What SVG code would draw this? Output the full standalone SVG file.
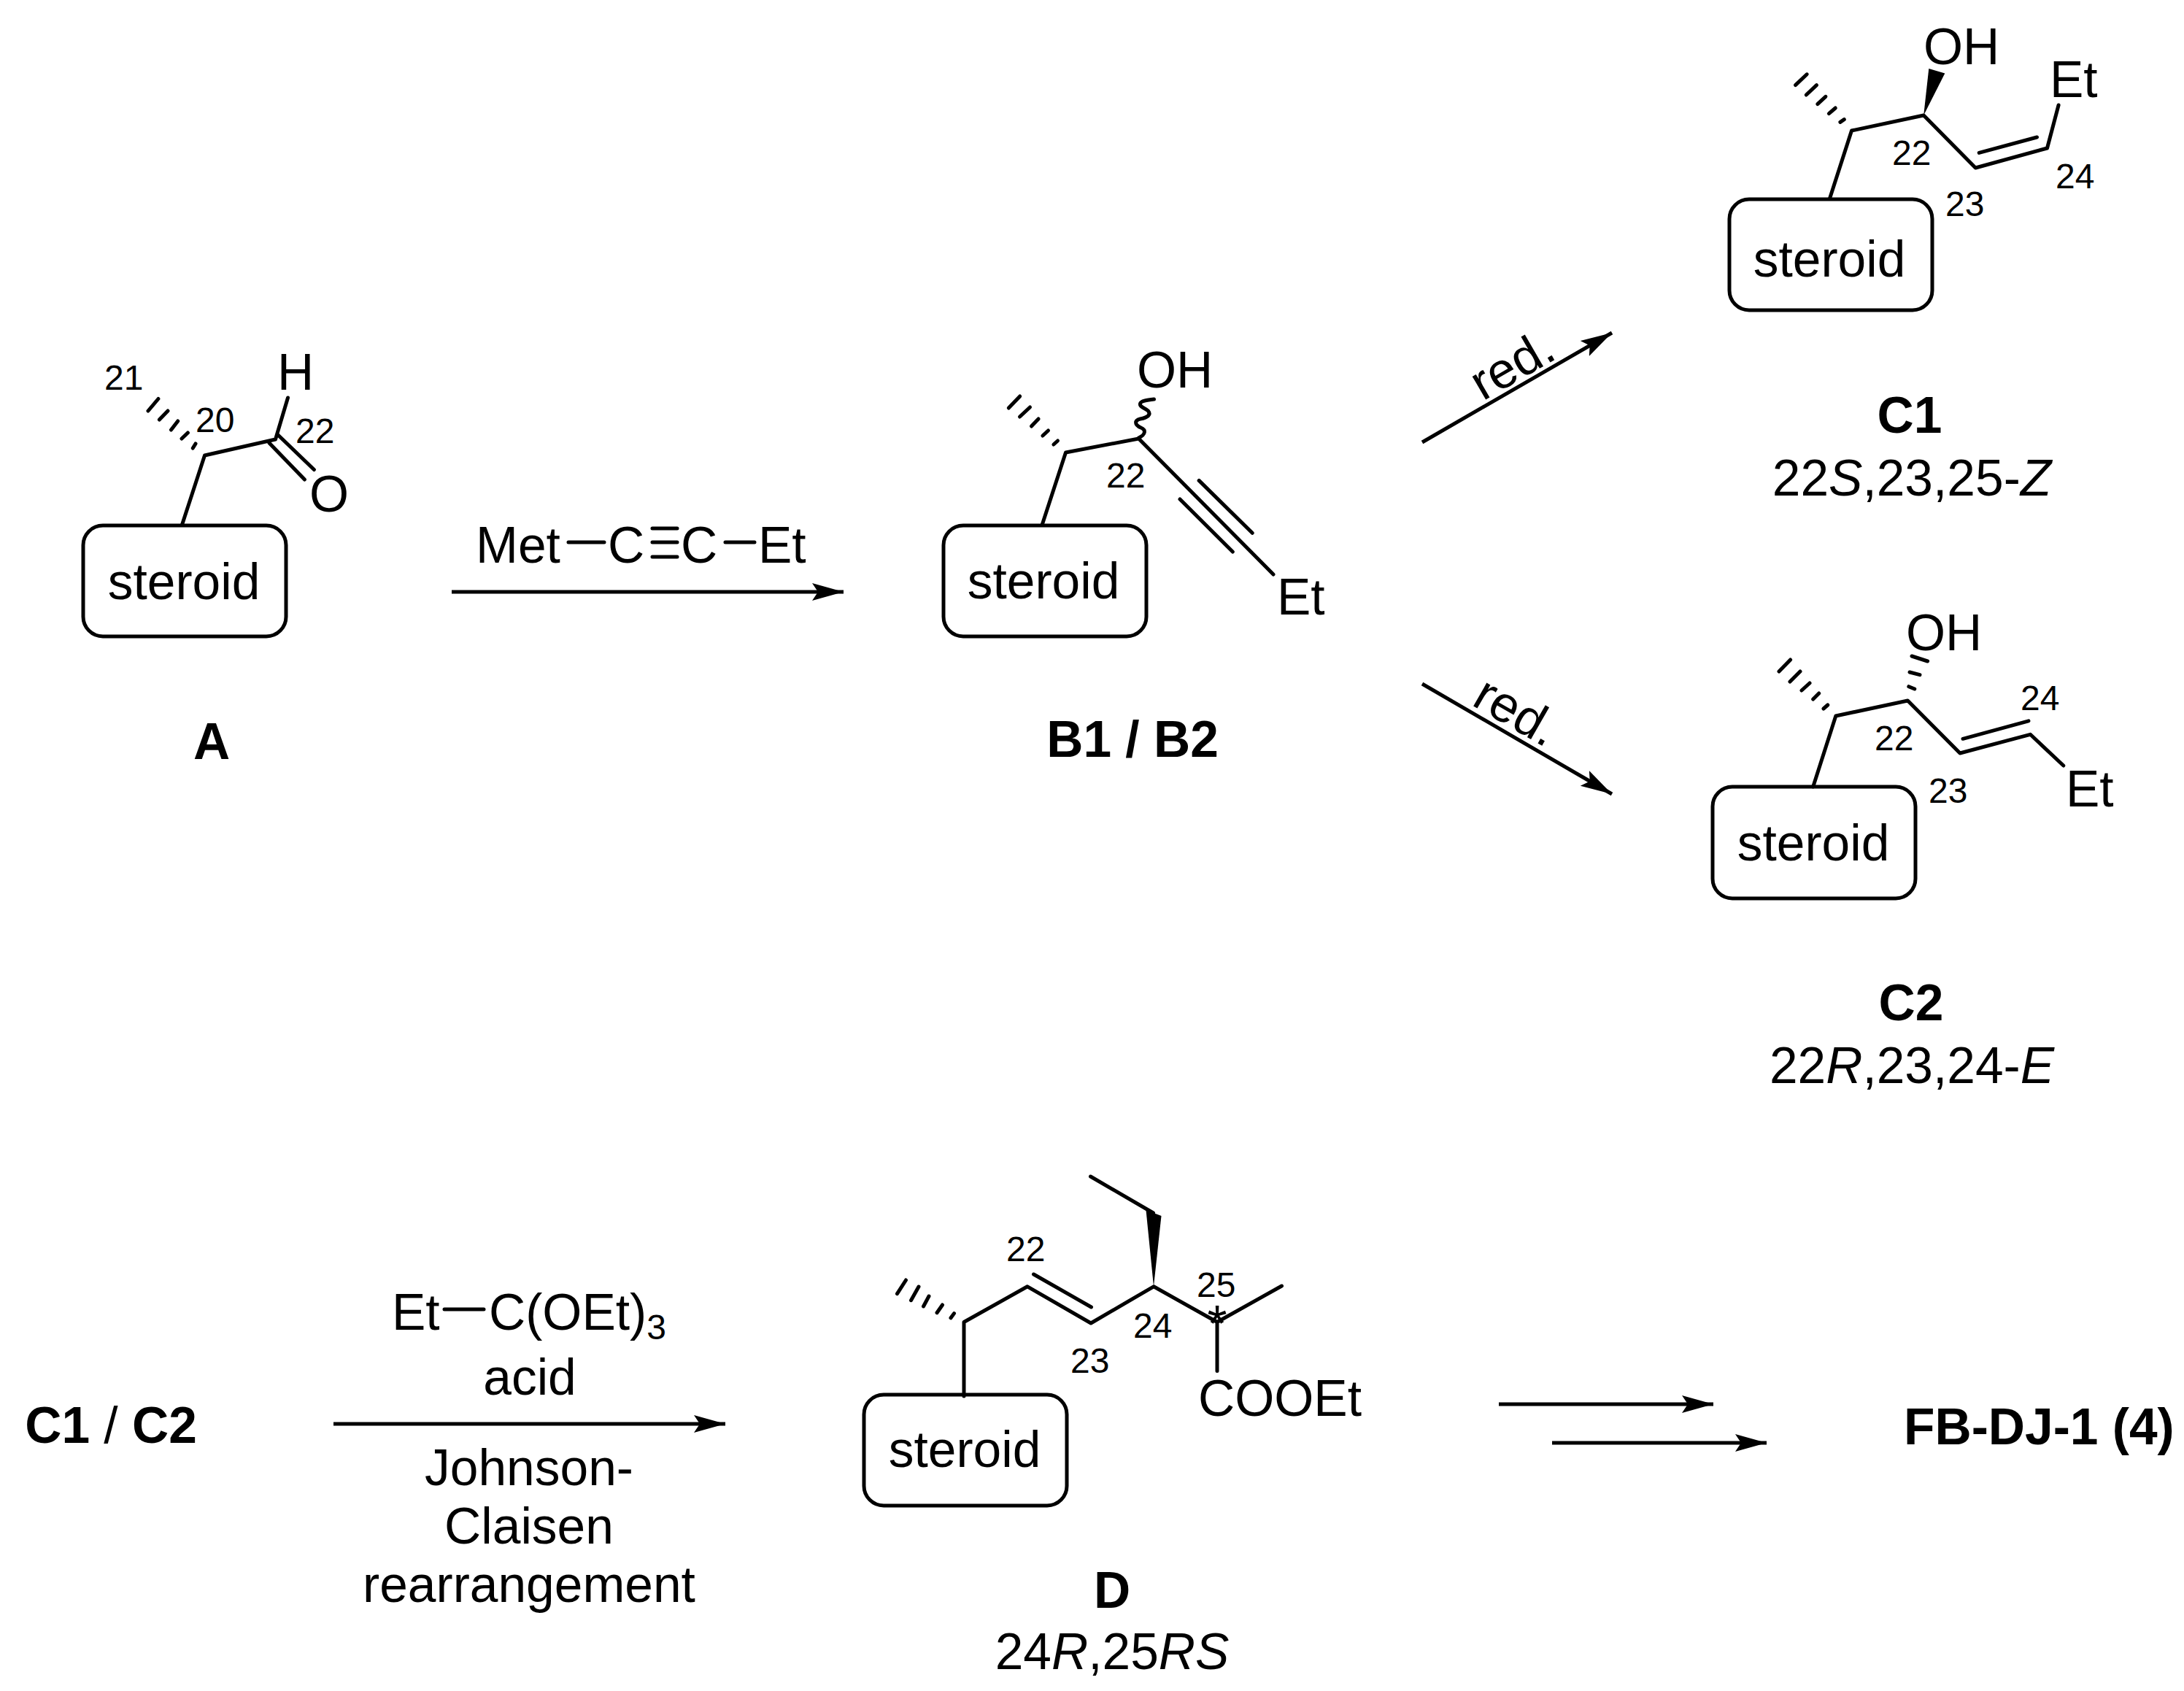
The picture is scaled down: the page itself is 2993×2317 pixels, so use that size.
<svg xmlns="http://www.w3.org/2000/svg" width="2993" height="2317" viewBox="0 0 2993 2317">
<style>
text{font-family:"Liberation Sans",Arial,sans-serif;font-size:69.500px;fill:#000}
.n{font-size:48px}
.b{font-weight:bold}
.m{text-anchor:middle}
.i{font-style:italic}
.r{font-weight:normal}
.bond{fill:none;stroke:#000;stroke-width:5;stroke-linecap:round;stroke-linejoin:round}
.hash{fill:none;stroke:#000;stroke-width:5;stroke-linecap:round}
.box{fill:none;stroke:#000;stroke-width:5}
.arrow{fill:none;stroke:#000;stroke-width:5;marker-end:url(#ah)}
</style>
<defs>
<marker id="ah" markerUnits="userSpaceOnUse" markerWidth="44" markerHeight="26" refX="43" refY="13" orient="auto"><path d="M43 13L0 1 8 13 0 25Z" fill="#000"/></marker>
</defs>
<rect width="2993" height="2317" fill="#fff"/>
<g id="connectors">
<path class="arrow" d="M619 811H1156"/>
<path class="arrow" d="M1949 606L2209 456"/>
<path class="arrow" d="M1949 937L2209 1088"/>
<path class="arrow" d="M457 1951H994"/>
<path class="arrow" d="M2054 1924H2348"/>
<path class="arrow" d="M2127 1977H2421"/>
</g>
<g id="node-A">
<rect class="box" x="114" y="720" width="278" height="152" rx="27"/>
<text class="m" x="252" y="821">steroid</text>
<path class="bond" d="M249.500 719L280.500 624 377.500 602 394.500 545M380 595L430.400 643.500M369 607L417.400 657"/>
<path class="hash" d="M216.900 546.500L203 563M230 563L218.400 575M243.700 577L234.500 589M257.400 593L249 601M268 608L264.300 614"/>
<text class="n" x="143" y="534">21</text>
<text class="n" x="268" y="592">20</text>
<text class="n" x="405" y="607">22</text>
<text x="380" y="534">H</text>
<text x="424" y="701">O</text>
<text class="b m" x="290" y="1040">A</text>
</g>
<g id="reagent-1" transform="translate(-3 -1)">
<text x="655" y="772">Met</text>
<text x="836" y="772">C</text>
<text x="936" y="772">C</text>
<text x="1042" y="772">Et</text>
<path class="bond" d="M782 744H831M897 725H931M897 744H931M897 764H931M997 744H1037"/>
</g>
<g id="node-B">
<rect class="box" x="1293" y="720" width="278" height="152" rx="27"/>
<text class="m" x="1430" y="820">steroid</text>
<g transform="translate(-1.500 -1)">
<path class="bond" d="M1430 719L1462 621 1562 602 1746.500 788M1644.600 659.400L1717.700 731.300M1618.500 685L1690.800 757"/>
<path class="bond" d="M1562 601C1572 596 1572 590 1565 587C1556 583 1556 577 1564 575C1575 573 1579 569 1575 564C1571 560 1563 559 1564 554C1565 550 1574 549 1583 548"/>
<path class="hash" d="M1399.200 544L1383.800 560M1413 559L1399 572M1424.600 575L1415 585M1438 591L1430.400 598M1451 605L1445.400 610"/>
</g>
<text x="1558" y="531">OH</text>
<text class="n" x="1516" y="668">22</text>
<text x="1750" y="842">Et</text>
<text class="b m" x="1552" y="1037">B1 / B2</text>
</g>
<g id="node-C1">
<rect class="box" x="2370" y="273" width="278" height="152" rx="27"/>
<text class="m" x="2507" y="379">steroid</text>
<g transform="translate(-2.500 0)">
<path class="bond" d="M2510 272L2540 179 2638.700 158 2709.800 230 2808 203 2823.600 144M2714.700 209.400L2794 188"/>
<path d="M2638.700 158L2645.800 94 2667.800 100.500Z"/>
<path class="hash" d="M2478.700 101.800L2463 116.600M2492 116.600L2477.800 130M2504.400 132.300L2493.300 142.600M2517.800 148L2508.900 155.600M2529.800 163.700L2524.400 167.300"/>
</g>
<text x="2636" y="88">OH</text>
<text x="2809" y="133">Et</text>
<text class="n" x="2593" y="226">22</text>
<text class="n" x="2666" y="296">23</text>
<text class="n" x="2817" y="258">24</text>
<text class="b m" x="2617" y="593">C1</text>
<text class="m" x="2620" y="679">22<tspan class="i">S</tspan>,23,25-<tspan class="i">Z</tspan></text>
</g>
<g id="node-C2" transform="translate(-2 0)">
<rect class="box" x="2349" y="1078" width="278" height="153" rx="27"/>
<text class="m" x="2487" y="1179">steroid</text>
<path class="bond" d="M2486.700 1078L2517.800 981 2616.400 960 2688 1032 2784.400 1006.300 2829.800 1049M2692 1012.300L2782 987.800"/>
<path class="hash" d="M2622 899L2643.600 906M2619 921L2633 924.600M2617.800 940.700L2625.800 944M2455.600 904L2440 920M2469 920L2455 934M2482 936L2471 946M2494.700 950L2486.700 958M2506.700 966L2501 971"/>
<text x="2614" y="891">OH</text>
<text x="2833" y="1105">Et</text>
<text class="n" x="2771" y="973">24</text>
<text class="n" x="2571" y="1028">22</text>
<text class="n" x="2645" y="1100">23</text>
<text class="b m" x="2621" y="1398">C2</text>
<text class="m" x="2622" y="1484">22<tspan class="i">R</tspan>,23,24-<tspan class="i">E</tspan></text>
</g>
<g id="node-C1-C2"><text class="b m" x="152" y="1977">C1 <tspan class="r">/</tspan> C2</text></g>
<g id="reagent-2">
<text x="537" y="1822">Et</text>
<path class="bond" d="M609 1794H663"/>
<text x="670" y="1822">C(OEt)<tspan font-size="48" dy="13">3</tspan></text>
<text class="m" x="726" y="1911">acid</text>
<text class="m" x="725" y="2035">Johnson-</text>
<text class="m" x="725" y="2115">Claisen</text>
<text class="m" x="725" y="2195">rearrangement</text>
</g>
<g id="node-D" transform="translate(-2 0)">
<rect class="box" x="1186" y="1911" width="278" height="152" rx="27"/>
<text class="m" x="1324" y="2010">steroid</text>
<path class="bond" d="M1323 1913V1811.500L1410 1762.800 1497 1813 1583 1762.800 1670 1811.500 1758.500 1762M1670 1811.500V1878.500M1418.500 1746L1497.500 1791M1496.500 1612L1582.500 1662"/>
<path d="M1583 1762.800L1572.500 1658 1593.500 1666Z"/>
<path class="hash" d="M1243.500 1754L1231.500 1772.700M1261 1763L1250.500 1781.700M1275 1776L1267.500 1790M1293.500 1788L1286 1798.700M1309.500 1799.600L1305 1805.800"/>
<text class="n" x="1381" y="1728">22</text>
<text class="n" x="1469" y="1881">23</text>
<text class="n" x="1555" y="1833">24</text>
<text class="n" x="1642" y="1777">25</text>
<text class="m" x="1670" y="1838">*</text>
<text x="1644" y="1940">COOEt</text>
<text class="b m" x="1526" y="2203">D</text>
<text class="m" x="1526" y="2287">24<tspan class="i">R</tspan>,25<tspan class="i">RS</tspan></text>
</g>
<g id="node-FB"><text class="b" x="2609" y="1979">FB-DJ-1 (4)</text></g>
<g id="labels">
<text transform="translate(2032 550) rotate(-30)">red.</text>
<text transform="translate(2015 965) rotate(30)">red.</text>
</g>
</svg>
